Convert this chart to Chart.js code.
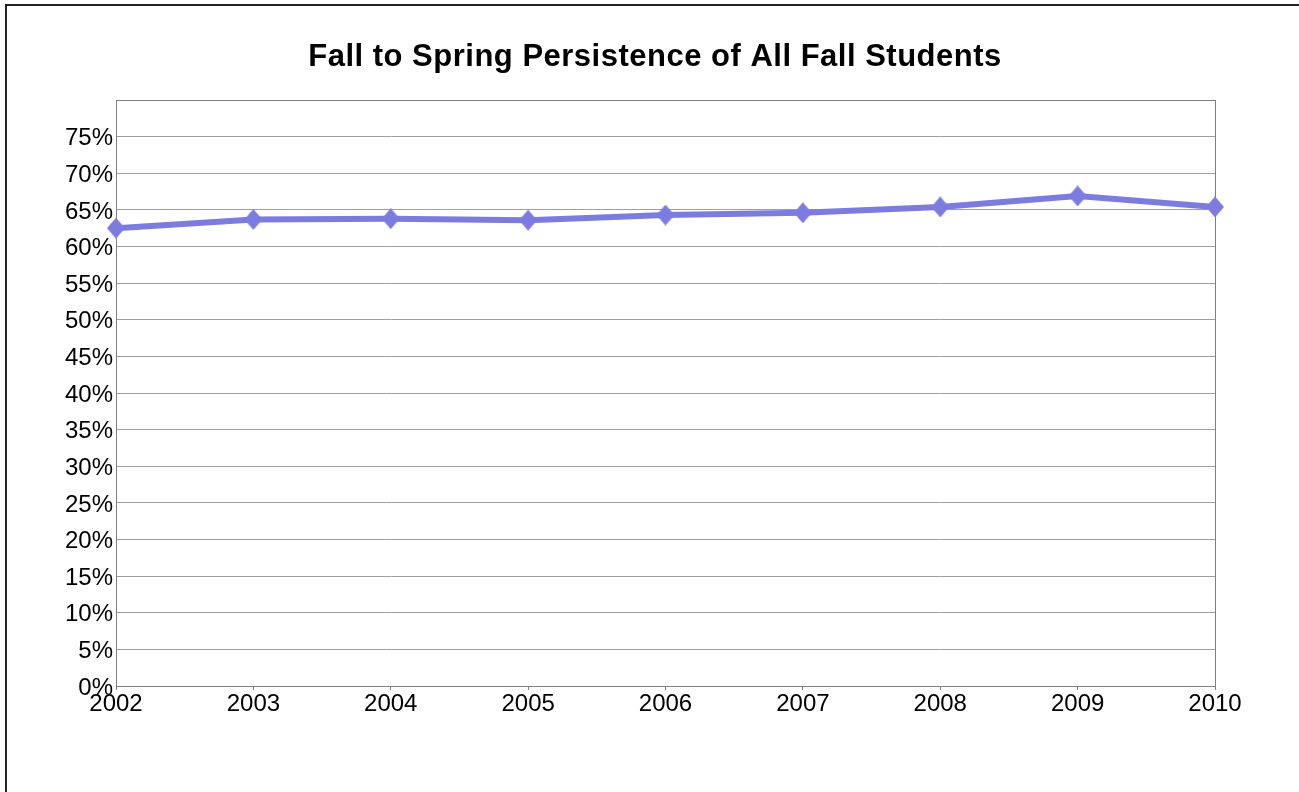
<!DOCTYPE html>
<html>
<head>
<meta charset="utf-8">
<title>Fall to Spring Persistence</title>
<script src="https://cdn.jsdelivr.net/npm/chart.js@4.4.1/dist/chart.umd.min.js"></script>
<style>
    html, body { margin: 0; padding: 0; background: #fff; overflow: hidden; }
    #wrap { position: relative; width: 1299px; height: 792px; }
    #frame {
        position: absolute; left: 5px; top: 4px; width: 2000px; height: 2000px;
        border-left: 2px solid #222; border-top: 2px solid #222;
        pointer-events: none;
    }
</style>
</head>
<body>
<div id="wrap">
    <canvas id="persistenceChart" width="1299" height="792"></canvas>
    <div id="frame"></div>
</div>
<script>
// chart values
const chartTitle = 'Fall to Spring Persistence of All Fall Students';
const years = ['2002', '2003', '2004', '2005', '2006', '2007', '2008', '2009', '2010'];
const persistence = [62.5, 63.7, 63.8, 63.6, 64.3, 64.6, 65.4, 66.9, 65.4];
const yMin = 0;
const yMax = 80;
const yStep = 5;

const lineColor = '#7c7ce0';
const gridColor = '#a0a0a0';
const borderColor = '#808080';
const fontFamily = '"Liberation Sans", Arial, sans-serif';

// diamond marker, a bit taller than wide like the original
function makeDiamond(w, h) {
    const c = document.createElement('canvas');
    c.width = w;
    c.height = h;
    const g = c.getContext('2d');
    g.fillStyle = lineColor;
    g.beginPath();
    g.moveTo(w / 2, 0);
    g.lineTo(w, h / 2);
    g.lineTo(w / 2, h);
    g.lineTo(0, h / 2);
    g.closePath();
    g.fill();
    return c;
}
const diamond = makeDiamond(18, 21);

// grey box round the plot area
const plotBorder = {
    id: 'plotBorder',
    beforeDatasetsDraw(chart) {
        const a = chart.chartArea;
        const c = chart.ctx;
        c.save();
        c.strokeStyle = borderColor;
        c.lineWidth = 1;
        c.strokeRect(a.left + 0.5, a.top + 0.5, a.right - a.left, a.bottom - a.top);
        c.restore();
    }
};

// title centred over the whole picture, not only over the chart box
const pageTitle = {
    id: 'pageTitle',
    afterDraw(chart) {
        const c = chart.ctx;
        c.save();
        c.font = 'bold 31px ' + fontFamily;
        c.fillStyle = '#000';
        c.textAlign = 'center';
        c.textBaseline = 'alphabetic';
        c.letterSpacing = '0.5px';
        c.fillText(chartTitle, 655, 66);
        c.restore();
    }
};

const ctx = document.getElementById('persistenceChart');
const persistenceChart = new Chart(ctx, {
    type: 'line',
    data: {
        labels: years,
        datasets: [{
            label: 'Persistence',
            data: persistence,
            borderColor: lineColor,
            backgroundColor: lineColor,
            borderWidth: 6,
            pointStyle: diamond,
            pointRadius: 10,
            tension: 0,
            fill: false,
            clip: false
        }]
    },
    options: {
        responsive: false,
        animation: false,
        layout: {
            padding: { left: 0, right: 84, top: 100, bottom: 66 }
        },
        scales: {
            x: {
                type: 'category',
                offset: false,
                grid: {
                    drawOnChartArea: false,
                    drawTicks: true,
                    tickLength: 4,
                    color: borderColor
                },
                border: { display: true, color: borderColor },
                ticks: {
                    color: '#000',
                    padding: 0,
                    maxRotation: 0,
                    autoSkip: false,
                    font: { family: fontFamily, size: 24 }
                },
                afterFit(scale) { scale.height = 40; }
            },
            y: {
                min: yMin,
                max: yMax,
                grid: {
                    color: gridColor,
                    drawTicks: false
                },
                border: { display: true, color: borderColor },
                ticks: {
                    stepSize: yStep,
                    color: '#000',
                    padding: 3,
                    labelOffset: 2,
                    font: { family: fontFamily, size: 24 },
                    callback: value => value === yMax ? '' : value + '%'
                },
                afterFit(scale) { scale.width = 116; }
            }
        },
        plugins: {
            legend: { display: false },
            tooltip: { enabled: false },
            title: { display: false }
        }
    },
    plugins: [plotBorder, pageTitle]
});
</script>
</body>
</html>
